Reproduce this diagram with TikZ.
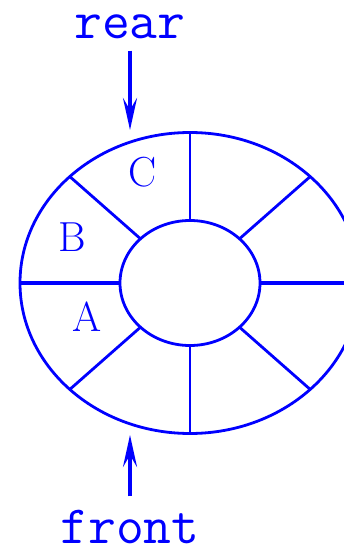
\documentclass[tikz,border=0pt]{standalone}
\usepackage{tikz}
\usetikzlibrary{arrows.meta}
\begin{document}
\begin{tikzpicture}[x=1pt,y=1pt]
		\tikzset{ring/.style={blue,line width=2.8pt},
			ptr/.style={blue,line width=4pt,-{Stealth[length=32pt,width=14pt,inset=12pt]}},
			slotlabel/.style={blue,font=\fontsize{42}{46}\selectfont},
			ptrlabel/.style={blue,font=\fontsize{54}{58}\selectfont\ttfamily,inner sep=0pt}};
		\useasboundingbox (0,0) rectangle (344,550);
		\clip (0,0) rectangle (344,550);
		\coordinate (c) at (190,267);
		\draw[ring] (c) ellipse [x radius=170pt, y radius=150.5pt];
		\draw[ring] (c) ellipse [x radius=70pt, y radius=62.5pt];
		\foreach \a/\w in {0/3.4,45/2.8,90/1.8,135/2.8,180/3.4,225/2.8,270/1.8,315/2.8}
			\draw[blue,line width=\w pt] ([shift={(\a:70pt and 62.5pt)}]c) -- ([shift={(\a:170pt and 150.5pt)}]c);
		\node[slotlabel] (C) at (143,378) {C};
		\node[slotlabel] (B) at (72,313) {B};
		\node[slotlabel] (A) at (87,233) {A};
		\node[ptrlabel,anchor=base] (rear) at (130,511) {rear};
		\node[ptrlabel,anchor=base] (front) at (130,6) {front};
		\coordinate (reartip) at (130,420);
		\coordinate (fronttip) at (130,115);
		\draw[ptr,shorten <=11pt] (rear.south) -- (reartip);
		\draw[ptr,shorten <=14pt] (front.north) -- (fronttip);
	\end{tikzpicture}
\end{document}
